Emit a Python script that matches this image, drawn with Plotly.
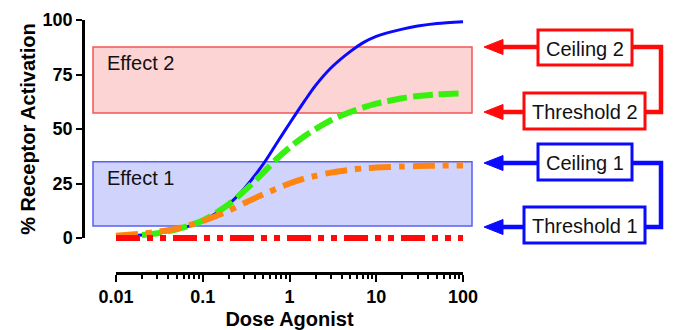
import plotly.graph_objects as go

# ---------------- data ----------------
dose = [0.01, 0.02, 0.03, 0.05, 0.1, 0.2, 0.3, 0.5, 0.7, 1, 1.5, 2, 3, 5, 7, 10, 20, 30, 50, 100]
full_agonist = [0.6, 1.4, 2.2, 3.8, 7.8, 15.6, 22.6, 34, 43, 52.5, 63, 70, 78, 85.5, 89.5, 92.5, 95.8, 97.2, 98.4, 99.2]
partial_2 = [0.7, 1.4, 2.2, 4, 8, 15.5, 21.5, 30, 36, 41.5, 46.8, 50, 54, 57.8, 59.8, 61.6, 64.1, 65.1, 65.9, 66.4]
partial_1 = [1.0, 2.0, 2.8, 4.3, 7.8, 12.5, 16, 20, 22.5, 25, 27.3, 28.5, 30, 31.3, 31.9, 32.3, 32.8, 33, 33.2, 33.3]
antagonist = [0, 0, 0, 0, 0, 0, 0, 0, 0, 0, 0, 0, 0, 0, 0, 0, 0, 0, 0, 0]

x_tick_vals = [0.01, 0.1, 1, 10, 100]
x_tick_text = ["0.01", "0.1", "1", "10", "100"]
y_tick_vals = [0, 25, 50, 75, 100]
y_tick_text = ["0", "25", "50", "75", "100"]

effect_names = ["Effect 1", "Effect 2"]
effect_threshold = [5.5, 57.3]
effect_ceiling = [35, 87.6]

box_labels = ["Ceiling 2", "Threshold 2", "Ceiling 1", "Threshold 1"]

# ---------------- geometry (pixels of the 673x330 page) ----------------
PAGE_W, PAGE_H = 673, 330
OFF = 8                                   # page body margin
PL, PR, PT, PB = 83, 480, 15, 273          # plot area
W, H = PR - PL, PB - PT
X_LO_PX, X_HI_PX = 116, 463               # 0.01 .. 100
Y0_PX, Y100_PX = 238, 20                  # 0 .. 100

dec = (X_HI_PX - X_LO_PX) / 4.0
x_range = [-2 - (X_LO_PX - PL) / dec, 2 + (PR - X_HI_PX) / dec]
ppu = (Y0_PX - Y100_PX) / 100.0
y_range = [-(PB - Y0_PX) / ppu, 100 + (Y100_PX - PT) / ppu]


def px(x):
    return (x - PL) / W


def py(y):
    return (PB - y) / H


FONT = "Arial, 'Liberation Sans', sans-serif"
BLUE = "#0a0aff"
GREEN = "#38f010"
ORANGE = "#ff8410"
RED = "#ff0a0a"

fig = go.Figure()

fig.add_trace(go.Scatter(x=dose, y=full_agonist, mode="lines",
                         line=dict(color=BLUE, width=3, shape="spline", smoothing=0.8),
                         hoverinfo="skip"))
fig.add_trace(go.Scatter(x=dose, y=partial_2, mode="lines",
                         line=dict(color=GREEN, width=6, dash="20px,6px", shape="spline", smoothing=0.8),
                         hoverinfo="skip"))
fig.add_trace(go.Scatter(x=dose, y=partial_1, mode="lines",
                         line=dict(color=ORANGE, width=6, dash="22px,8px,6px,8px", shape="spline", smoothing=0.8),
                         hoverinfo="skip"))
fig.add_trace(go.Scatter(x=dose, y=antagonist, mode="lines",
                         line=dict(color=RED, width=6, dash="24px,7px,6px,7px,6px,7px"),
                         hoverinfo="skip"))
# dummy trace to create the visible axes subplot
fig.add_trace(go.Scatter(x=[None], y=[None], xaxis="x2", yaxis="y2", hoverinfo="skip"))

shapes = []
annotations = []

# effect bands
band_style = [
    dict(fill="rgb(208,212,252)", line="rgb(85,95,245)"),
    dict(fill="rgb(252,212,212)", line="rgb(242,85,85)"),
]
for name, lo, hi, st in zip(effect_names, effect_threshold, effect_ceiling, band_style):
    shapes.append(dict(type="rect", xref="paper", yref="y", x0=px(93), x1=px(472), y0=lo, y1=hi,
                       fillcolor=st["fill"], line=dict(color=st["line"], width=1.5), layer="below"))
    annotations.append(dict(text=name, xref="paper", yref="y", x=px(105), y=hi - 7.3,
                            xanchor="left", yanchor="middle", showarrow=False,
                            font=dict(family=FONT, size=20, color="#111")))

# right-hand label boxes, arrows and connectors
panel = [
    # label, box x0, box x1, box y0, box y1, arrow y, color
    (box_labels[0], 538, 632, 30, 65, 47, RED),
    (box_labels[1], 524, 645, 93, 129, 112, RED),
    (box_labels[2], 538, 632, 144, 180, 163, BLUE),
    (box_labels[3], 524, 645, 207, 243, 227, BLUE),
]
for lab, bx0, bx1, by0, by1, ay, col in panel:
    shapes.append(dict(type="line", xref="paper", yref="paper", x0=px(bx0), x1=px(498),
                       y0=py(ay), y1=py(ay), line=dict(color=col, width=4.5)))
    shapes.append(dict(type="path", xref="paper", yref="paper",
                       path="M %f,%f L %f,%f L %f,%f Z" % (px(484), py(ay), px(503), py(ay - 7.5),
                                                           px(503), py(ay + 7.5)),
                       fillcolor=col, line=dict(color=col, width=1)))
    shapes.append(dict(type="rect", xref="paper", yref="paper", x0=px(bx0), x1=px(bx1),
                       y0=py(by1), y1=py(by0), fillcolor="white", line=dict(color=col, width=3)))
    annotations.append(dict(text=lab, xref="paper", yref="paper", x=px((bx0 + bx1) / 2),
                            y=py((by0 + by1) / 2 + 1), xanchor="center", yanchor="middle",
                            showarrow=False, font=dict(family=FONT, size=20, color="#111")))

for (c_x1, c_y, t_x1, t_y, col) in [(632, 47, 645, 112, RED), (632, 163, 645, 227, BLUE)]:
    shapes.append(dict(type="path", xref="paper", yref="paper",
                       path="M %f,%f L %f,%f L %f,%f L %f,%f" % (px(c_x1), py(c_y), px(661), py(c_y),
                                                                 px(661), py(t_y), px(t_x1), py(t_y)),
                       line=dict(color=col, width=4.5)))

minor_vals = [m * 10 ** e for e in range(-2, 2) for m in range(2, 10)]

tickfont = dict(family=FONT, size=18, color="black", weight="bold")
titlefont = dict(family=FONT, size=20, color="black", weight="bold")

fig.update_layout(
    width=PAGE_W - OFF, height=PAGE_H - OFF,
    margin=dict(l=PL - OFF, r=PAGE_W - PR, t=PT - OFF, b=PAGE_H - PB, pad=0),
    paper_bgcolor="white", plot_bgcolor="rgba(0,0,0,0)",
    showlegend=False,
    xaxis=dict(type="log", range=x_range, domain=[0, 1], visible=False, fixedrange=True),
    yaxis=dict(range=y_range, domain=[0, 1], visible=False, fixedrange=True),
    xaxis2=dict(type="log", range=[-2, 2], domain=[px(X_LO_PX), px(X_HI_PX)],
                anchor="free", position=0, showgrid=False, zeroline=False,
                showline=True, linecolor="black", linewidth=2.5,
                ticks="outside", ticklen=7, tickwidth=2, tickcolor="black",
                tickmode="array", tickvals=x_tick_vals, ticktext=x_tick_text,
                tickfont=tickfont,
                minor=dict(ticks="outside", ticklen=4, tickwidth=2, tickcolor="black",
                           tickmode="array", tickvals=minor_vals, showgrid=False),
                title=dict(text="Dose Agonist", font=titlefont, standoff=5),
                automargin=False, fixedrange=True),
    yaxis2=dict(range=[0, 100], domain=[py(Y0_PX), py(Y100_PX)],
                anchor="free", position=0, showgrid=False, zeroline=False,
                showline=True, linecolor="black", linewidth=2.5,
                ticks="outside", ticklen=6, tickwidth=2, tickcolor="black",
                tickmode="array", tickvals=y_tick_vals, ticktext=y_tick_text,
                tickfont=tickfont,
                title=dict(text="% Receptor Activation", font=titlefont, standoff=0),
                automargin=False, fixedrange=True),
    shapes=shapes,
    annotations=annotations,
)

fig.write_html("out.html")
